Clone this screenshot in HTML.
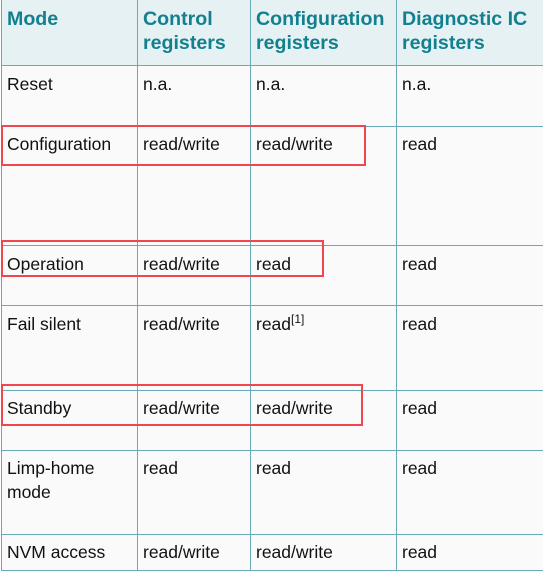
<!DOCTYPE html>
<html><head><style>
body{margin:0;width:543px;height:573px;background:#fff;position:relative;font-family:"Liberation Sans",sans-serif;overflow:hidden}
.l{position:absolute;background:#6aaab6}
.t{position:absolute;font-size:17.5px;color:#111;line-height:24px}
.h{position:absolute;font-size:19.6px;font-weight:bold;color:#13808f;line-height:24px}
.r{position:absolute;border:2.5px solid #f0474f;box-sizing:border-box}
</style></head><body>
<div style="position:absolute;left:1px;top:0;width:542px;height:65px;background:#e6f1f3"></div>
<div style="position:absolute;left:1px;top:65px;width:542px;height:505px;background:#fafafa"></div>
<div class="l" style="left:1px;top:0;width:1px;height:571px"></div>
<div class="l" style="left:137px;top:0;width:1px;height:571px"></div>
<div class="l" style="left:250px;top:0;width:1px;height:571px"></div>
<div class="l" style="left:396px;top:0;width:1px;height:571px"></div>
<div class="l" style="left:1px;top:65px;width:542px;height:1px"></div>
<div class="l" style="left:1px;top:126px;width:542px;height:1px"></div>
<div class="l" style="left:1px;top:245px;width:542px;height:1px"></div>
<div class="l" style="left:1px;top:305px;width:542px;height:1px"></div>
<div class="l" style="left:1px;top:390px;width:542px;height:1px"></div>
<div class="l" style="left:1px;top:450px;width:542px;height:1px"></div>
<div class="l" style="left:1px;top:534px;width:542px;height:1px"></div>
<div class="l" style="left:1px;top:570px;width:542px;height:1px"></div>

<div class="h" style="left:7px;top:7px">Mode</div>
<div class="h" style="left:143px;top:7px">Control<br>registers</div>
<div class="h" style="left:256px;top:7px">Configuration<br>registers</div>
<div class="h" style="left:402px;top:7px">Diagnostic IC<br>registers</div>

<div class="t" style="left:7px;top:72px">Reset</div><div class="t" style="left:143px;top:72px">n.a.</div><div class="t" style="left:256px;top:72px">n.a.</div><div class="t" style="left:402px;top:72px">n.a.</div>
<div class="t" style="left:7px;top:132px">Configuration</div><div class="t" style="left:143px;top:132px">read/write</div><div class="t" style="left:256px;top:132px">read/write</div><div class="t" style="left:402px;top:132px">read</div>
<div class="t" style="left:7px;top:252px">Operation</div><div class="t" style="left:143px;top:252px">read/write</div><div class="t" style="left:256px;top:252px">read</div><div class="t" style="left:402px;top:252px">read</div>
<div class="t" style="left:7px;top:312px">Fail silent</div><div class="t" style="left:143px;top:312px">read/write</div><div class="t" style="left:256px;top:312px">read<sup style="font-size:12px;line-height:0">[1]</sup></div><div class="t" style="left:402px;top:312px">read</div>
<div class="t" style="left:7px;top:396px">Standby</div><div class="t" style="left:143px;top:396px">read/write</div><div class="t" style="left:256px;top:396px">read/write</div><div class="t" style="left:402px;top:396px">read</div>
<div class="t" style="left:7px;top:456px">Limp-home<br>mode</div><div class="t" style="left:143px;top:456px">read</div><div class="t" style="left:256px;top:456px">read</div><div class="t" style="left:402px;top:456px">read</div>
<div class="t" style="left:7px;top:540px">NVM access</div><div class="t" style="left:143px;top:540px">read/write</div><div class="t" style="left:256px;top:540px">read/write</div><div class="t" style="left:402px;top:540px">read</div>

<div class="r" style="left:1px;top:125px;width:365px;height:41px"></div>
<div class="r" style="left:1px;top:240px;width:323px;height:37px"></div>
<div class="r" style="left:1px;top:384px;width:362px;height:42px"></div>
</body></html>
